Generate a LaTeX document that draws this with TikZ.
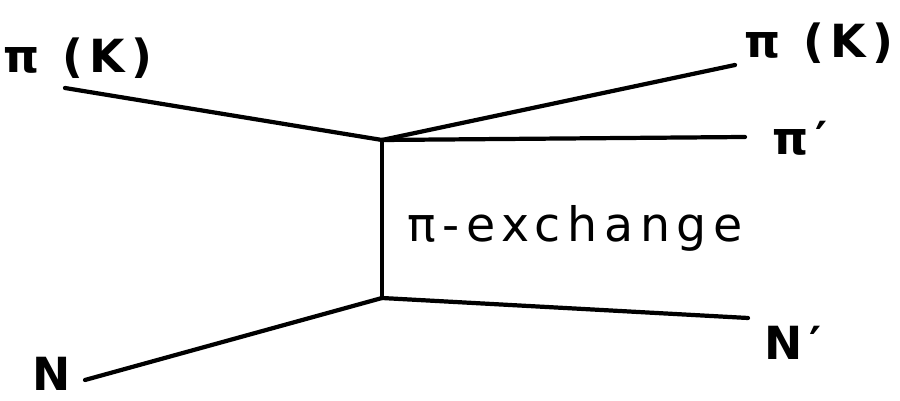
\documentclass[tikz,border=0pt]{standalone}
\usepackage{fontspec}
\setmainfont{DejaVu Sans}
\newfontfamily\wide[LetterSpace=14]{DejaVu Sans}
\newfontfamily\widebf[LetterSpace=15]{DejaVu Sans Bold}
\begin{document}
\begin{tikzpicture}[x=0.02cm, y=-0.02cm,
    line/.style={line width=2.4pt, line cap=round, line join=round},
    lbl/.style={font=\widebf\fontsize{26}{28}\selectfont, inner sep=0pt}]
    \useasboundingbox (0, 0) rectangle (900, 401);

    % Vertices
    \coordinate (top) at (382, 140);
    \coordinate (bot) at (382, 298);

    % free ends
    \coordinate (inA) at (65, 88);
    \coordinate (inN) at (85, 380);
    \coordinate (outA) at (735, 65);
    \coordinate (outB) at (745, 137);
    \coordinate (outN) at (748, 318);

    % Labels
    \node[lbl] (pkin) at (78, 58) {π (K)};
    \node[lbl] (pkout) at (819, 43) {π (K)};
    \node[lbl] (pprime) at (800, 138) {π′};
    \node[lbl] (nin) at (52, 374) {N};
    \node[lbl] (nout) at (793, 343) {N′};
    \node[lbl, font=\wide\fontsize{27}{29}\selectfont] (exch) at (575, 228) {π-exchange};

    % Lines
    \draw[line] (inA) -- (top);
    \draw[line] (top) -- (outA);
    \draw[line] (top) -- (outB);
    \draw[line] (top) -- (bot);
    \draw[line] (inN) -- (bot);
    \draw[line] (bot) -- (outN);
\end{tikzpicture}
\end{document}
